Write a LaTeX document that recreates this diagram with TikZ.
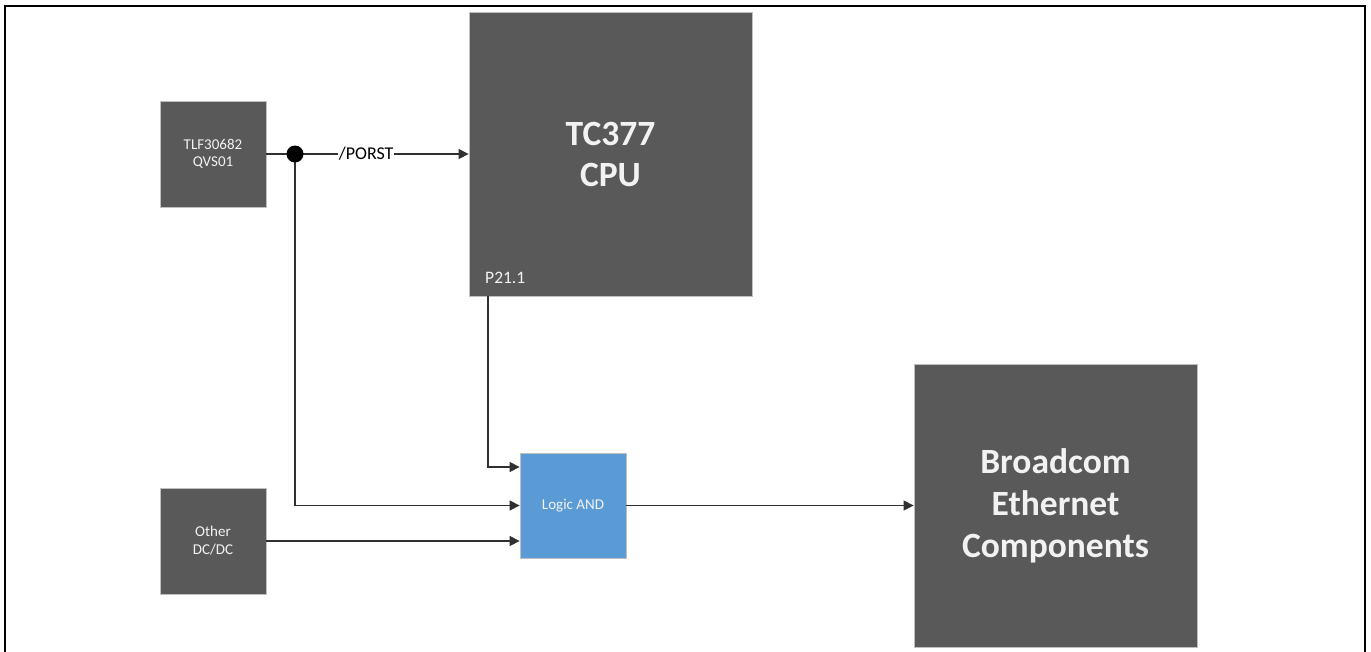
\documentclass[tikz,border=0pt]{standalone}
\usepackage{fontspec}
\setmainfont{Carlito}
\usetikzlibrary{arrows.meta,calc}
\definecolor{boxgray}{HTML}{595959}
\definecolor{boxblue}{HTML}{5B9BD5}
\definecolor{edgegray}{HTML}{C0C0C0}
\definecolor{linegray}{HTML}{303030}
\definecolor{txtwhite}{HTML}{F2F2F2}
\tikzset{
  darkbox/.style={draw=edgegray, line width=0.8pt, fill=boxgray, text=txtwhite, inner sep=0pt, align=center},
  bluebox/.style={draw=edgegray, line width=0.8pt, fill=boxblue, text=txtwhite, inner sep=0pt, align=center},
  conn/.style={draw=linegray, line width=1.3pt},
  arr/.style={conn, -{Triangle[length=10pt,width=10pt]}},
}
\begin{document}
\begin{tikzpicture}[x=1pt,y=-1pt]
\clip (0,0) rectangle (1371,651);
\fill[white] (0,0) rectangle (1371,651);
% frame
\draw[line width=2pt, black] (5,670) -- (5,6) -- (1365,6) -- (1365,670);

% boxes
\node[darkbox, minimum width=106pt, minimum height=106pt, font=\fontsize{15}{17}\selectfont] (tlf) at (213,154) {TLF30682\\QVS01};
\node[darkbox, minimum width=283pt, minimum height=284pt, font=\fontsize{35.5}{41}\selectfont\bfseries] (cpu) at (610.5,154) {TC377\\CPU};
\node[text=txtwhite, anchor=base west, inner sep=0pt, font=\fontsize{17.5}{20}\selectfont] (p21label) at (485,283) {P21.1};
\node[bluebox, minimum width=106pt, minimum height=105pt, font=\fontsize{15}{17}\selectfont] (and) at (573,505.5) {Logic AND};
\node[darkbox, minimum width=106pt, minimum height=106pt, font=\fontsize{15}{18}\selectfont] (dcdc) at (213,541) {Other\\DC/DC};
\node[darkbox, minimum width=283pt, minimum height=283pt, font=\fontsize{35.5}{42}\selectfont\bfseries] (bcm) at (1055.5,505.5) {Broadcom\\Ethernet\\Components};

% junction
\coordinate (dot) at (295,154);
\coordinate (p21) at (488,296);

% connectors
\draw[conn] (tlf.east) -- (dot);
\draw[arr] (dot) -- node[fill=white, text=black, inner sep=1pt, font=\fontsize{18}{20}\selectfont, pos=0.41] (porst) {/PORST} (cpu.west |- dot);
\draw[arr] (dot) |- (and.west);
\draw[arr] (p21) |- ([yshift=38.5pt]and.west);
\draw[arr] (dcdc.east) -- (dcdc.east -| and.west);
\draw[arr] (and.east) -- (bcm.west);
\fill[black] (dot) circle (8.5pt);
\end{tikzpicture}
\end{document}
